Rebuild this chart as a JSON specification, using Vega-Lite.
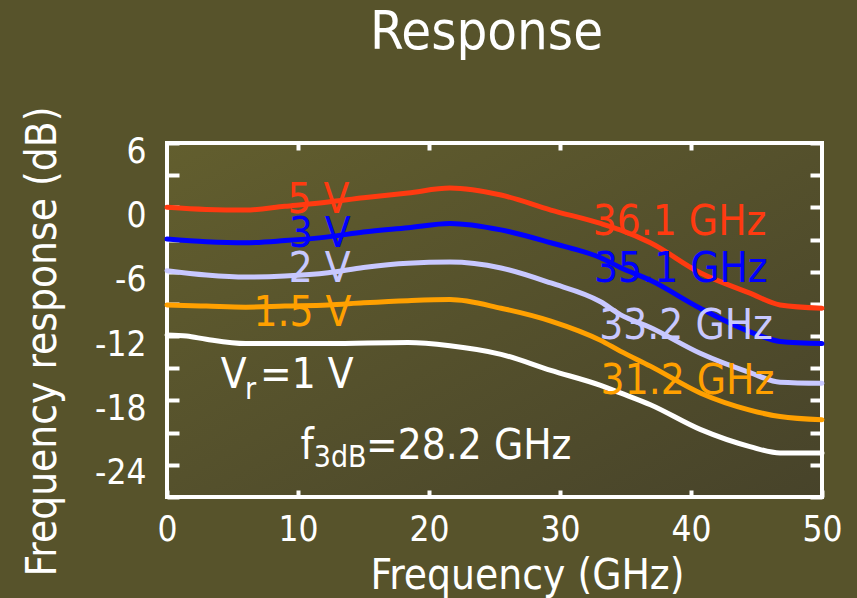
{
  "$schema": "https://vega.github.io/schema/vega-lite/v6.json",
  "width": 655,
  "height": 354,
  "autosize": {"type": "none"},
  "padding": {"left": 167, "top": 143, "right": 35, "bottom": 101},
  "background": "#57532b",
  "title": {
    "text": "Response",
    "color": "#ffffff",
    "font": "DejaVu Sans Condensed",
    "fontSize": 54,
    "fontWeight": "normal",
    "anchor": "middle",
    "frame": "group",
    "baseline": "alphabetic",
    "offset": 3,
    "dx": -8
  },
  "datasets": {
    "curves": [
      {"series": "5 V", "f": 0, "dB": 0.0}, {"series": "5 V", "f": 3, "dB": -0.2}, {"series": "5 V", "f": 6, "dB": -0.25}, {"series": "5 V", "f": 9, "dB": 0.1}, {"series": "5 V", "f": 12.3, "dB": 0.5}, {"series": "5 V", "f": 15, "dB": 0.9}, {"series": "5 V", "f": 18.4, "dB": 1.34}, {"series": "5 V", "f": 21.6, "dB": 1.8}, {"series": "5 V", "f": 25.5, "dB": 1.15}, {"series": "5 V", "f": 29.3, "dB": -0.25}, {"series": "5 V", "f": 33.1, "dB": -1.5}, {"series": "5 V", "f": 34.6, "dB": -2.1}, {"series": "5 V", "f": 36.9, "dB": -3.3}, {"series": "5 V", "f": 40.7, "dB": -6.1}, {"series": "5 V", "f": 44.5, "dB": -8.0}, {"series": "5 V", "f": 46.8, "dB": -9.1}, {"series": "5 V", "f": 50, "dB": -9.4},
      {"series": "3 V", "f": 0, "dB": -2.95}, {"series": "3 V", "f": 3, "dB": -3.2}, {"series": "3 V", "f": 6, "dB": -3.3}, {"series": "3 V", "f": 9, "dB": -3.1}, {"series": "3 V", "f": 12.3, "dB": -2.75}, {"series": "3 V", "f": 15, "dB": -2.3}, {"series": "3 V", "f": 18.4, "dB": -1.9}, {"series": "3 V", "f": 21.6, "dB": -1.5}, {"series": "3 V", "f": 25.5, "dB": -2.1}, {"series": "3 V", "f": 29.3, "dB": -3.3}, {"series": "3 V", "f": 33.1, "dB": -4.7}, {"series": "3 V", "f": 34.6, "dB": -5.6}, {"series": "3 V", "f": 36.9, "dB": -6.8}, {"series": "3 V", "f": 40.7, "dB": -9.4}, {"series": "3 V", "f": 44.5, "dB": -11.6}, {"series": "3 V", "f": 46.8, "dB": -12.5}, {"series": "3 V", "f": 50, "dB": -12.7},
      {"series": "2 V", "f": 0, "dB": -5.9}, {"series": "2 V", "f": 3, "dB": -6.3}, {"series": "2 V", "f": 6, "dB": -6.5}, {"series": "2 V", "f": 9, "dB": -6.4}, {"series": "2 V", "f": 12.3, "dB": -6.1}, {"series": "2 V", "f": 15, "dB": -5.6}, {"series": "2 V", "f": 18.4, "dB": -5.2}, {"series": "2 V", "f": 21.6, "dB": -5.1}, {"series": "2 V", "f": 25.5, "dB": -5.65}, {"series": "2 V", "f": 29.3, "dB": -7.05}, {"series": "2 V", "f": 33.1, "dB": -8.8}, {"series": "2 V", "f": 34.6, "dB": -10.0}, {"series": "2 V", "f": 36.9, "dB": -11.2}, {"series": "2 V", "f": 40.7, "dB": -13.6}, {"series": "2 V", "f": 44.5, "dB": -15.4}, {"series": "2 V", "f": 46.8, "dB": -16.3}, {"series": "2 V", "f": 50, "dB": -16.4},
      {"series": "1.5 V", "f": 0, "dB": -9.1}, {"series": "1.5 V", "f": 3, "dB": -9.2}, {"series": "1.5 V", "f": 6, "dB": -9.3}, {"series": "1.5 V", "f": 9, "dB": -9.2}, {"series": "1.5 V", "f": 12.3, "dB": -9.1}, {"series": "1.5 V", "f": 15, "dB": -8.9}, {"series": "1.5 V", "f": 18.4, "dB": -8.7}, {"series": "1.5 V", "f": 21.6, "dB": -8.6}, {"series": "1.5 V", "f": 25.5, "dB": -9.4}, {"series": "1.5 V", "f": 29.3, "dB": -10.6}, {"series": "1.5 V", "f": 33.1, "dB": -12.4}, {"series": "1.5 V", "f": 34.6, "dB": -13.4}, {"series": "1.5 V", "f": 36.9, "dB": -14.8}, {"series": "1.5 V", "f": 40.7, "dB": -17.3}, {"series": "1.5 V", "f": 44.5, "dB": -18.9}, {"series": "1.5 V", "f": 46.8, "dB": -19.5}, {"series": "1.5 V", "f": 50, "dB": -19.8},
      {"series": "1 V", "f": 0, "dB": -11.9}, {"series": "1 V", "f": 1.5, "dB": -12.0}, {"series": "1 V", "f": 3, "dB": -12.3}, {"series": "1 V", "f": 6, "dB": -12.7}, {"series": "1 V", "f": 12.3, "dB": -12.7}, {"series": "1 V", "f": 18.4, "dB": -12.6}, {"series": "1 V", "f": 21.6, "dB": -12.9}, {"series": "1 V", "f": 25.5, "dB": -13.7}, {"series": "1 V", "f": 29.3, "dB": -15.2}, {"series": "1 V", "f": 33.1, "dB": -16.6}, {"series": "1 V", "f": 34.6, "dB": -17.3}, {"series": "1 V", "f": 36.9, "dB": -18.4}, {"series": "1 V", "f": 40.7, "dB": -20.7}, {"series": "1 V", "f": 44.5, "dB": -22.3}, {"series": "1 V", "f": 46.8, "dB": -22.9}, {"series": "1 V", "f": 50, "dB": -22.9}
    ],
    "labels": [
      {"series": "5 V", "f": 9.2, "dB": -0.5, "text": "5 V"},
      {"series": "3 V", "f": 9.3, "dB": -3.65, "text": "3 V"},
      {"series": "2 V", "f": 9.3, "dB": -7.0, "text": "2 V"},
      {"series": "1.5 V", "f": 6.6, "dB": -11.1, "text": "1.5 V"},
      {"series": "5 V", "f": 32.5, "dB": -2.55, "text": "36.1 GHz"},
      {"series": "3 V", "f": 32.6, "dB": -7.0, "text": "35.1 GHz"},
      {"series": "2 V", "f": 33.0, "dB": -12.3, "text": "33.2 GHz"},
      {"series": "1.5 V", "f": 33.1, "dB": -17.4, "text": "31.2 GHz"},
      {"series": "1 V", "f": 4.1, "dB": -16.8, "text": "V"},
      {"series": "1 V", "f": 7.1, "dB": -16.8, "text": "=1 V"},
      {"series": "1 V", "f": 10.2, "dB": -23.5, "text": "f"},
      {"series": "1 V", "f": 15.2, "dB": -23.5, "text": "=28.2 GHz"}
    ],
    "subs": [
      {"series": "1 V", "f": 5.95, "dB": -17.9, "text": "r"},
      {"series": "1 V", "f": 11.2, "dB": -24.2, "text": "3dB"}
    ]
  },
  "layer": [
    {
      "data": {"name": "curves"},
      "mark": {"type": "line", "strokeWidth": 5, "interpolate": "monotone", "strokeCap": "round"},
      "encoding": {
        "x": {"field": "f", "type": "quantitative", "scale": {"domain": [0, 50], "nice": false, "zero": false},
              "axis": {"orient": "bottom", "values": [0, 10, 20, 30, 40, 50], "tickSize": -7, "labelPadding": 22, "labelFlush": false,
                       "title": "Frequency (GHz)", "titleX": 360, "titleY": 91, "titleBaseline": "alphabetic", "titleAnchor": null, "titleAlign": "center"}},
        "y": {"field": "dB", "type": "quantitative", "scale": {"domain": [-27, 6], "nice": false, "zero": false},
              "axis": {"orient": "left", "values": [-27, -24, -21, -18, -15, -12, -9, -6, -3, 0, 3, 6], "tickSize": -12, "labelPadding": 33, "labelFlush": false, "labelOffset": 8,
                       "labelExpr": "datum.value % 6 === 0 ? '' + datum.value : ''",
                       "title": "Frequency response (dB)", "titleX": -112, "titleY": 198, "titleAngle": -90, "titleBaseline": "alphabetic", "titleAlign": "center", "titleAnchor": null}},
        "color": {"field": "series", "type": "nominal",
                  "scale": {"domain": ["5 V", "3 V", "2 V", "1.5 V", "1 V"], "range": ["#ff3a10", "#0000ff", "#c8c8ff", "#ffa000", "#ffffff"]},
                  "legend": null}
      }
    },
    {
      "data": {"name": "curves"},
      "mark": {"type": "line", "opacity": 0},
      "encoding": {
        "x": {"field": "f", "type": "quantitative",
              "axis": {"orient": "top", "values": [10, 20, 30, 40], "tickSize": -7, "labels": false, "title": null}},
        "y": {"field": "dB", "type": "quantitative",
              "axis": {"orient": "right", "values": [-27, -24, -21, -18, -15, -12, -9, -6, -3, 0, 3, 6], "tickSize": -12, "labels": false, "title": null}},
        "detail": {"field": "series"}
      }
    },
    {
      "data": {"name": "labels"},
      "mark": {"type": "text", "fontSize": 42, "align": "left", "baseline": "alphabetic", "font": "DejaVu Sans Condensed"},
      "encoding": {
        "x": {"field": "f", "type": "quantitative", "axis": null},
        "y": {"field": "dB", "type": "quantitative", "axis": null},
        "text": {"field": "text"},
        "color": {"field": "series", "type": "nominal", "legend": null}
      }
    },
    {
      "data": {"name": "subs"},
      "mark": {"type": "text", "fontSize": 30, "align": "left", "baseline": "alphabetic", "font": "DejaVu Sans Condensed"},
      "encoding": {
        "x": {"field": "f", "type": "quantitative", "axis": null},
        "y": {"field": "dB", "type": "quantitative", "axis": null},
        "text": {"field": "text"},
        "color": {"field": "series", "type": "nominal", "legend": null}
      }
    }
  ],
  "resolve": {"axis": {"x": "independent", "y": "independent"}},
  "config": {
    "view": {
      "stroke": "#ffffff",
      "strokeWidth": 4,
      "fill": {
        "gradient": "linear",
        "x1": 0, "y1": 0, "x2": 1, "y2": 1,
        "stops": [
          {"offset": 0, "color": "#625e2e"},
          {"offset": 1, "color": "#47432a"}
        ]
      }
    },
    "axis": {
      "grid": false,
      "domain": false,
      "labelColor": "#ffffff",
      "titleColor": "#ffffff",
      "tickColor": "#ffffff",
      "tickWidth": 4,
      "labelFont": "DejaVu Sans Condensed",
      "titleFont": "DejaVu Sans Condensed",
      "labelFontSize": 35,
      "titleFontSize": 42,
      "titleFontWeight": "normal"
    }
  }
}
